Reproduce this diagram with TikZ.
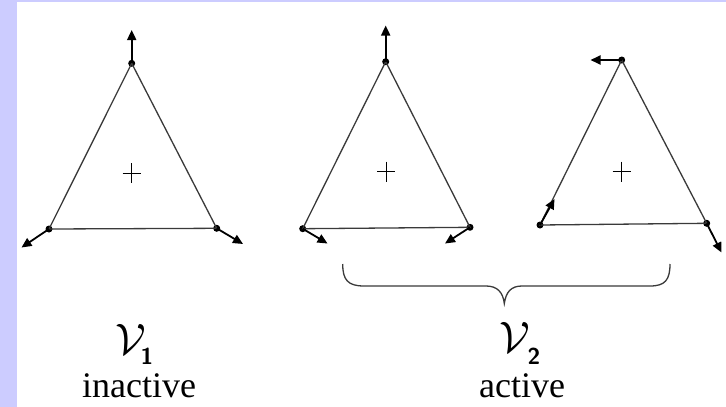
\documentclass[tikz,border=0pt]{standalone}
\usepackage{fontspec}
\setmainfont{Liberation Serif}
\newfontfamily\serifface{Liberation Serif}
\usetikzlibrary{arrows.meta}
\definecolor{lav}{HTML}{CCCCFF}
\definecolor{edge}{HTML}{3A3A3A}
\tikzset{
  side/.style={draw=edge, line width=1.3pt},
  vec/.style={draw=black, line width=1.8pt, -{Triangle[length=10pt,width=9pt]}},
  dotmark/.style={circle, fill=black, inner sep=0pt, minimum size=7pt},
  plusmark/.style={draw=black, line width=1pt},
  lbl/.style={font=\serifface\fontsize{36}{40}\selectfont, anchor=base, inner sep=0pt, text height=25pt, text depth=0pt},
  vlbl/.style={inner sep=0pt},
  sublbl/.style={font=\sffamily\bfseries\fontsize{23}{23}\selectfont, inner sep=0pt, text depth=0pt}
}
\begin{document}
\begin{tikzpicture}[x=1pt,y=-1pt]
\useasboundingbox (0,0) rectangle (726,407);
\fill[white] (0,0) rectangle (726,407);
\fill[lav] (0,0) rectangle (17,407);
\fill[lav] (0,0) rectangle (726,1.5);

% triangle 1
\node[dotmark] (a1) at (131.7,63.3) {};
\node[dotmark] (b1) at (49,229) {};
\node[dotmark] (c1) at (216.7,228.3) {};
\draw[side] (a1.center) -- (b1.center) -- (c1.center) -- cycle;
\coordinate (pa1) at (131.7,30);
\coordinate (pb1) at (21.5,247.5);
\coordinate (pc1) at (243,244);
\draw[vec] (a1.center) -- (pa1);
\draw[vec] (b1.center) -- (pb1);
\draw[vec] (c1.center) -- (pc1);
\draw[plusmark] (122.7,173.3) -- (140.7,173.3) (131.7,163.3) -- (131.7,183.3);

% triangle 2
\node[dotmark] (a2) at (385.7,61.7) {};
\node[dotmark] (b2) at (302.7,228.7) {};
\node[dotmark] (c2) at (470,227.3) {};
\draw[side] (a2.center) -- (b2.center) -- (c2.center) -- cycle;
\coordinate (pa2) at (385.7,25.5);
\coordinate (pb2) at (327.5,243.5);
\coordinate (pc2) at (445,243.5);
\draw[vec] (a2.center) -- (pa2);
\draw[vec] (b2.center) -- (pb2);
\draw[vec] (c2.center) -- (pc2);
\draw[plusmark] (377,171.7) -- (395,171.7) (386,161.7) -- (386,181.7);

% triangle 3
\node[dotmark] (a3) at (621.7,60) {};
\node[dotmark] (b3) at (540,225) {};
\node[dotmark] (c3) at (706.7,223.3) {};
\draw[side] (a3.center) -- (b3.center) -- (c3.center) -- cycle;
\coordinate (pa3) at (590.5,60);
\coordinate (pb3) at (554.5,199);
\coordinate (pc3) at (721.5,252.5);
\draw[vec] (a3.center) -- (pa3);
\draw[vec] (b3.center) -- (pb3);
\draw[vec] (c3.center) -- (pc3);
\draw[plusmark] (612.7,171.7) -- (630.7,171.7) (621.7,161.7) -- (621.7,181.7);

% brace
\coordinate (bl) at (342.7,264);
\coordinate (bt) at (504.3,303.5);
\coordinate (br) at (670,264);
\draw[edge, line width=1.3pt]
  (bl) .. controls (342.7,280) and (348,286) .. (364,286)
  -- (486,286) .. controls (497,286) and (503,292) .. (bt)
  .. controls (506,292) and (511,286) .. (522,286)
  -- (650,286) .. controls (665,286) and (670,280) .. (br);

% labels
\node[vlbl] (v1) at (130.5,339) {\scalebox{4.4}{$\mathcal{V}$}};
\node[sublbl] (s1) at (147,356.5) {1};
\node[vlbl] (v2) at (514.5,337.5) {\scalebox{4.4}{$\mathcal{V}$}};
\node[sublbl] (s2) at (534,356.5) {2};
\node[lbl] (t1) at (139,397) {inactive};
\node[lbl] (t2) at (522,397) {active};
\end{tikzpicture}
\end{document}
